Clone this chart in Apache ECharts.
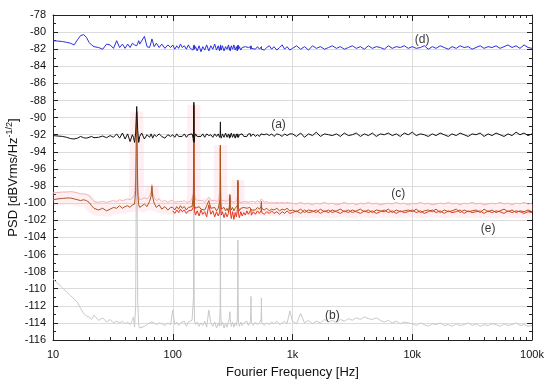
<!DOCTYPE html>
<html>
<head>
<meta charset="utf-8">
<script src="https://cdn.jsdelivr.net/npm/echarts@6/dist/echarts.min.js"></script>
<style>html,body{margin:0;padding:0;background:#fff}#c{width:550px;height:386px}</style>
</head>
<body>
<div id="c"></div>
<script>
// ---- frequency grid [Hz] ----
var fLow = [10,11,12,13,14,15,16,17,18,19,
  20,21,22,24,26,28,30,32,34,36,
  38,40,42,44,46,47,48,49,50,51,
  52,53,55,58,61,64,66,67,68,70,
  73,77,81,86,91,96];
var fMid = [100,104,108,112,116,120,125,130,135,140,
  145,148,149,150,151,152,155,160,166,172,
  178,185,192,200,208,216,224,232,240,246,
  249,250,251,254,260,268,276,284,292,298,
  300,302,308,316,324,332,340,346,349,350,
  351,354,360,370,380,392,404,416,428,440,
  446,449,450,451,454,470,490,510,530,546,
  549,550,551,554,580,610,640,670,700,740,
  780,820,860,900,950];
var fHigh = [1000,1080,1170,1260,1360,1470,1580,1710,1850,2000,
  2150,2330,2510,2710,2930,3160,3410,3690,3980,4300,
  4640,5010,5410,5840,6310,6810,7360,7940,8580,9260,
  10000,10800,11700,12600,13600,14700,15800,17100,18500,20000,
  21500,23300,25100,27100,29300,31600,34100,36900,39800,43000,
  46400,50100,54100,58400,63100,68100,73600,79400,85800,92600,
  100000];

// ---- (d) blue ----
var dLow = [-81.0,-81.05,-81.1,-81.2,-81.3,-81.5,-80.9,-80.4,-80.3,-80.6,
  -81.2,-81.5,-81.7,-81.8,-82.0,-81.4,-81.5,-81.9,-81.0,-81.8,
  -81.4,-81.9,-81.4,-81.8,-81.3,-81.1,-81.5,-81.7,-81.6,-81.3,
  -81.0,-81.4,-81.6,-80.5,-81.7,-81.8,-81.2,-80.8,-80.7,-81.7,
  -81.3,-81.8,-81.4,-81.9,-81.5,-81.8];
var dMid = [-81.5,-82.0,-81.6,-81.9,-81.4,-81.8,-81.6,-82.0,-81.5,-81.9,
  -81.7,-82.1,-81.6,-81.9,-81.5,-82.0,-81.7,-82.2,-81.6,-82.3,
  -81.7,-82.1,-81.5,-82.2,-81.6,-82.0,-81.4,-82.1,-81.6,-82.2,
  -81.7,-82.0,-81.5,-82.1,-81.6,-82.2,-81.7,-82.0,-81.5,-82.1,
  -81.8,-82.2,-81.6,-82.0,-81.5,-82.1,-81.7,-82.2,-81.6,-81.9,
  -81.5,-82.0,-81.7,-82.1,-81.8,-82.0,-81.7,-81.9,-81.8,-82.0,
  -81.7,-82.0,-81.8,-81.6,-81.9,-81.8,-82.0,-81.7,-82.0,-81.8,
  -81.9,-81.7,-82.0,-81.8,-82.1,-81.8,-81.6,-82.0,-81.7,-82.1,
  -81.8,-81.5,-82.0,-81.7,-82.1];
var dHigh = [-81.9,-81.6,-82.0,-81.7,-82.1,-81.6,-81.9,-81.7,-82.0,-81.8,
  -81.6,-81.9,-81.7,-82.0,-81.8,-81.6,-81.9,-81.7,-82.0,-81.6,
  -81.9,-81.7,-81.8,-82.0,-81.6,-81.9,-81.7,-81.8,-81.6,-81.9,
  -81.7,-81.9,-81.8,-81.6,-82.0,-81.7,-81.9,-81.6,-81.8,-82.0,
  -81.7,-81.9,-81.6,-81.8,-81.7,-82.0,-81.8,-81.6,-81.9,-81.7,
  -81.8,-81.6,-81.9,-81.7,-81.5,-81.8,-81.6,-81.9,-81.5,-81.8,
  -81.9];

// ---- (a) black ----
var aLow = [-92.1,-92.15,-92.2,-92.3,-92.45,-92.5,-92.4,-92.2,-92.35,-92.4,
  -92.3,-92.2,-92.35,-92.3,-92.15,-92.35,-92.1,-92.3,-91.9,-92.4,
  -91.8,-92.5,-91.9,-92.8,-92.0,-92.3,-92.9,-91.8,-88.7,-91.5,
  -92.9,-92.2,-91.8,-92.5,-92.0,-92.3,-91.9,-92.1,-92.4,-92.0,
  -92.2,-91.9,-92.2,-92.4,-92.0,-92.2];
var aMid = [-92.0,-92.3,-91.9,-92.2,-92.0,-92.2,-91.9,-92.3,-92.0,-92.2,
  -91.9,-92.4,-92.8,-88.2,-92.9,-92.3,-91.9,-92.2,-92.0,-92.2,
  -91.9,-92.3,-91.9,-92.1,-92.0,-92.3,-91.9,-92.2,-91.9,-92.3,
  -92.0,-90.5,-92.1,-92.4,-91.9,-92.3,-91.8,-92.3,-91.9,-92.4,
  -92.0,-92.3,-91.8,-92.3,-91.9,-92.4,-91.9,-92.3,-91.9,-92.1,
  -91.8,-92.3,-92.0,-92.2,-91.9,-92.2,-92.0,-92.2,-91.9,-92.1,
  -91.9,-92.2,-92.0,-92.1,-92.0,-91.9,-92.2,-92.0,-92.2,-91.9,
  -92.1,-92.0,-91.9,-92.1,-92.0,-91.9,-92.1,-91.9,-92.2,-91.9,
  -92.0,-92.2,-91.9,-92.1,-91.9];
var aHigh = [-91.9,-92.2,-91.8,-92.3,-91.9,-92.1,-91.7,-92.2,-91.9,-92.0,
  -92.1,-91.9,-92.2,-91.8,-92.1,-92.0,-91.8,-92.2,-91.9,-92.1,
  -91.8,-92.2,-91.9,-92.0,-91.8,-92.1,-91.9,-92.2,-91.8,-92.0,
  -91.7,-92.1,-91.9,-92.0,-92.2,-91.9,-92.1,-91.8,-92.0,-92.2,
  -91.9,-92.1,-91.8,-92.0,-92.2,-91.9,-92.0,-91.8,-92.2,-91.9,
  -92.1,-91.8,-92.0,-92.2,-91.9,-92.1,-91.7,-92.0,-91.8,-92.1,
  -91.9];

// ---- (c) brown ----
var cLow = [-99.6,-99.5,-99.45,-99.4,-99.4,-99.5,-99.6,-99.7,-99.6,-99.7,
  -99.9,-100.3,-100.6,-100.8,-100.6,-100.9,-100.7,-100.5,-100.6,-100.3,
  -100.6,-100.4,-100.3,-100.5,-100.2,-100.4,-100.1,-98.5,-89.3,-98.8,
  -100.2,-100.5,-100.3,-100.1,-100.4,-99.8,-99.2,-98.0,-99.3,-100.0,
  -100.5,-100.2,-100.7,-100.4,-100.8,-100.5];
var cMid = [-100.5,-100.8,-100.4,-100.7,-100.3,-100.6,-100.4,-100.8,-100.5,-100.7,
  -100.4,-100.2,-99.0,-88.5,-99.2,-100.3,-100.6,-100.8,-100.4,-100.7,
  -100.5,-100.8,-100.3,-99.7,-100.6,-100.8,-100.5,-100.9,-100.6,-100.8,
  -99.5,-93.2,-99.6,-100.7,-100.9,-100.5,-100.9,-100.6,-101.0,-100.2,
  -99.0,-100.3,-100.8,-100.5,-100.9,-100.6,-100.8,-100.3,-99.5,-97.3,
  -99.8,-100.5,-100.9,-100.6,-100.8,-100.5,-100.7,-100.6,-100.8,-100.5,
  -100.7,-100.6,-100.3,-100.6,-100.8,-100.6,-100.8,-100.5,-100.7,-100.4,
  -100.2,-99.8,-100.3,-100.6,-100.8,-100.6,-100.9,-100.7,-100.8,-100.6,
  -100.9,-100.7,-100.8,-100.6,-100.9];
var cHigh = [-100.8,-101.0,-100.7,-101.1,-100.8,-100.9,-101.1,-100.7,-101.0,-100.8,
  -101.1,-100.9,-100.7,-101.0,-100.8,-101.1,-100.9,-100.7,-101.0,-100.8,
  -101.1,-100.8,-100.9,-101.0,-100.7,-101.1,-100.8,-101.0,-100.9,-100.8,
  -101.0,-100.7,-101.1,-100.9,-100.8,-101.0,-100.7,-101.1,-100.8,-101.0,
  -100.9,-100.7,-101.1,-100.8,-101.0,-100.9,-100.8,-101.1,-100.7,-101.0,
  -100.8,-101.1,-100.9,-100.7,-101.0,-100.8,-101.1,-100.9,-101.0,-100.8,
  -101.0];

// ---- light pink companion of (c) ----
var pLow = [-98.8,-98.75,-98.7,-98.7,-98.65,-98.7,-98.8,-98.9,-98.9,-99.0,
  -99.1,-99.5,-99.8,-99.9,-99.8,-99.9,-99.8,-99.7,-99.8,-99.6,
  -99.7,-99.6,-99.5,-99.6,-99.4,-99.3,-99.0,-97.0,-89.6,-97.5,
  -99.2,-99.6,-99.5,-99.4,-99.5,-99.2,-98.7,-97.8,-98.8,-99.4,
  -99.7,-99.5,-99.8,-99.7,-99.9,-99.7];
var pMid = [-99.7,-99.9,-99.7,-99.8,-99.6,-99.8,-99.7,-99.9,-99.7,-99.8,
  -99.5,-98.8,-97.0,-89.0,-97.2,-99.0,-99.6,-99.8,-99.7,-99.9,
  -99.7,-99.9,-99.6,-99.3,-99.7,-99.9,-99.7,-99.9,-99.8,-99.6,
  -98.5,-93.6,-98.6,-99.7,-99.9,-99.7,-99.9,-99.8,-99.9,-99.5,
  -99.0,-99.5,-99.8,-99.7,-99.9,-99.8,-99.8,-99.4,-98.5,-97.6,
  -98.7,-99.5,-99.9,-99.8,-99.9,-99.7,-99.8,-99.8,-99.9,-99.7,
  -99.8,-99.8,-99.6,-99.8,-99.9,-99.8,-99.9,-99.7,-99.9,-99.7,
  -99.5,-99.3,-99.5,-99.7,-99.9,-99.8,-100.0,-99.9,-100.0,-99.9,
  -100.0,-99.9,-100.0,-99.9,-100.0];
var pHigh = [-100.0,-100.1,-99.9,-100.1,-100.0,-100.2,-100.0,-100.1,-99.9,-100.1,
  -100.0,-100.2,-100.1,-99.9,-100.1,-100.0,-100.2,-100.0,-100.1,-99.9,
  -100.1,-100.0,-100.2,-100.1,-100.0,-100.1,-99.9,-100.1,-100.0,-100.2,
  -100.0,-100.1,-99.9,-100.1,-100.0,-100.2,-100.1,-100.0,-100.1,-99.9,
  -100.1,-100.0,-100.2,-100.0,-100.1,-99.9,-100.1,-100.0,-100.2,-100.1,
  -100.0,-100.1,-99.9,-100.1,-100.0,-100.2,-100.0,-100.1,-99.9,-100.1,
  -100.0];

// ---- (e) red (from 100 Hz) ----
var eMid = [-100.9,-101.2,-100.8,-101.1,-100.7,-101.0,-100.8,-101.2,-100.9,-101.1,
  -100.8,-100.5,-99.3,-88.7,-99.5,-100.9,-101.4,-100.9,-101.5,-100.8,
  -101.3,-101.0,-101.6,-100.2,-101.3,-100.9,-101.6,-101.0,-101.5,-101.1,
  -99.9,-93.4,-100.0,-101.4,-101.0,-101.7,-101.1,-101.6,-101.2,-100.5,
  -99.3,-100.8,-101.8,-101.0,-101.9,-101.1,-101.6,-100.8,-99.8,-97.5,
  -100.2,-101.3,-101.7,-101.0,-101.5,-101.1,-101.4,-100.9,-101.3,-101.0,
  -101.2,-101.0,-100.7,-101.1,-101.4,-101.0,-101.3,-100.9,-101.2,-100.9,
  -100.6,-100.2,-100.7,-101.1,-101.3,-101.0,-101.2,-100.9,-101.2,-101.0,
  -101.3,-101.0,-101.2,-100.9,-101.2];
var eHigh = [-101.1,-100.9,-101.2,-100.8,-101.1,-101.0,-100.8,-101.2,-100.9,-101.1,
  -100.8,-101.0,-101.2,-100.9,-101.1,-100.8,-101.0,-101.2,-100.9,-101.1,
  -100.9,-101.2,-101.0,-100.8,-101.1,-100.9,-101.2,-100.9,-101.1,-101.0,
  -100.8,-101.1,-100.9,-101.2,-101.0,-100.8,-101.1,-100.9,-101.2,-100.9,
  -101.1,-101.0,-100.8,-101.2,-100.9,-101.1,-101.0,-100.9,-101.2,-100.9,
  -101.1,-100.9,-101.0,-101.2,-100.9,-101.1,-100.9,-101.0,-101.2,-101.0,
  -101.1];

// ---- (b) grey ----
var bLow = [-108.9,-109.4,-109.9,-110.4,-110.8,-111.2,-111.6,-112.3,-112.9,-113.2,
  -113.3,-113.6,-113.1,-113.7,-113.4,-113.9,-113.6,-114.0,-113.8,-114.0,
  -113.8,-114.1,-113.9,-114.2,-113.7,-113.3,-114.5,-112.0,-89.3,-111.5,
  -114.3,-114.6,-114.7,-114.4,-114.2,-114.0,-114.2,-113.9,-114.1,-114.0,
  -114.2,-114.0,-114.1,-114.3,-114.0,-114.2];
var bMid = [-112.5,-114.2,-113.9,-114.3,-114.0,-114.2,-113.8,-114.4,-113.9,-114.1,
  -113.7,-113.5,-111.0,-88.6,-111.0,-113.8,-114.2,-113.9,-114.4,-114.0,
  -114.3,-113.8,-114.5,-112.5,-114.0,-114.4,-113.9,-114.6,-114.0,-114.4,
  -112.0,-93.3,-112.2,-114.3,-113.9,-114.6,-114.0,-114.5,-113.9,-113.3,
  -112.7,-113.5,-114.4,-113.9,-114.5,-114.0,-114.3,-113.5,-110.0,-104.3,
  -110.5,-114.0,-114.4,-113.9,-114.3,-114.0,-114.2,-113.8,-114.3,-114.0,
  -113.7,-112.5,-110.9,-112.6,-114.0,-114.3,-113.9,-114.2,-114.0,-113.6,
  -112.6,-111.1,-112.7,-114.0,-114.3,-114.0,-114.2,-113.9,-114.1,-113.8,
  -114.2,-114.0,-113.8,-114.1,-112.6];
var bHigh = [-113.8,-114.1,-112.9,-114.0,-113.7,-114.1,-113.8,-114.0,-113.6,-113.9,
  -113.7,-114.0,-113.6,-113.8,-113.5,-113.7,-113.4,-113.6,-113.3,-113.5,
  -113.6,-113.4,-113.7,-113.9,-113.7,-114.0,-113.8,-114.1,-113.9,-114.0,
  -114.1,-114.3,-114.0,-114.2,-114.4,-114.1,-114.2,-114.0,-114.3,-114.2,
  -114.4,-114.1,-114.3,-114.2,-114.0,-114.3,-114.1,-114.4,-114.2,-114.3,
  -114.1,-114.2,-114.4,-114.1,-114.3,-114.2,-114.0,-114.3,-114.2,-114.4,
  -114.3];

// ---- ticks & annotations ----
var xTickLabels = {10:'10',100:'100',1000:'1k',10000:'10k',100000:'100k'};
var xMinorTicks = [20,30,40,50,60,70,80,90,200,300,400,500,600,700,800,900,
  2000,3000,4000,5000,6000,7000,8000,9000,20000,30000,40000,50000,60000,70000,80000,90000];
var curveLabels = ['(d)','(a)','(c)','(e)','(b)'];
var curveLabelFreq = [12100, 764, 7640, 43000, 2150];
var curveLabelVal = [-80.9, -90.85, -98.95, -103.0, -113.1];

var freq = fLow.concat(fMid, fHigh);
var freqE = fMid.concat(fHigh);
function pairs(fs, vs){ if(fs.length!==vs.length) throw new Error('len '+fs.length+' vs '+vs.length); return fs.map(function(f,i){return [f, vs[i]];}); }
var dData = pairs(freq, dLow.concat(dMid, dHigh));
var aData = pairs(freq, aLow.concat(aMid, aHigh));
var cData = pairs(freq, cLow.concat(cMid, cHigh));
var pData = pairs(freq, pLow.concat(pMid, pHigh));
var eData = pairs(freqE, eMid.concat(eHigh));
var bData = pairs(freq, bLow.concat(bMid, bHigh));

var FONT = '"Liberation Sans", Arial, Helvetica, sans-serif';
var AX = '#222';
function xAx(pos, minor, labels){
  return {
    type:'log', logBase:10, min:10, max:100000, position:pos,
    axisLine:{show:!minor, onZero:false, lineStyle:{color:AX, width:1}},
    axisTick:minor ? {show:true, inside:true, length:3, customValues:xMinorTicks, lineStyle:{color:AX}}
                   : {show:true, inside:true, length:6, lineStyle:{color:AX}},
    axisLabel:{show:labels, margin:9, fontFamily:FONT, fontSize:11, color:'#111',
      formatter:function(v){ return xTickLabels[Math.round(v)] || ''; }},
    splitLine:{show:(!minor && labels), lineStyle:{color:'#dcdcdc', width:1}},
    name: labels ? 'Fourier Frequency [Hz]' : '',
    nameLocation:'middle', nameGap:26,
    nameTextStyle:{fontFamily:FONT, fontSize:13, color:'#111'}
  };
}
function yAx(pos, labels){
  return {
    type:'value', min:-116, max:-78, interval:2, position:pos,
    axisLine:{show:true, onZero:false, lineStyle:{color:AX, width:1}},
    axisTick:{show:true, inside:true, length:5, lineStyle:{color:AX}},
    minorTick:{show:true, splitNumber:2, length:3, lineStyle:{color:AX}},
    axisLabel:{show:labels, margin:7, fontFamily:FONT, fontSize:11, color:'#111'},
    splitLine:{show:labels, lineStyle:{color:'#dcdcdc', width:1}},
    name: labels ? 'PSD [dBVrms/Hz{sup|-1/2}]' : '',
    nameLocation:'middle', nameGap:32, nameRotate:90, nameMoveOverlap:false,
    nameTextStyle:{fontFamily:FONT, fontSize:13, color:'#111',
      rich:{sup:{fontFamily:FONT, fontSize:9, color:'#111', verticalAlign:'bottom', padding:[0,0,7,0]}}}
  };
}
function line(data, color, width, z){
  return {type:'line', data:data, xAxisIndex:0, yAxisIndex:0, showSymbol:false, symbol:'none',
    smooth:false, lineStyle:{color:color, width:width}, z:z, silent:true, animation:false};
}

var chart = echarts.init(document.getElementById('c'), null, {renderer:'canvas'});
chart.setOption({
  animation:false,
  backgroundColor:'#fff',
  grid:{left:53, right:18, top:15, bottom:46, containLabel:false, outerBoundsMode:'none'},
  xAxis:[xAx('bottom', false, true), xAx('bottom', true, false), xAx('top', false, false), xAx('top', true, false)],
  yAxis:[yAx('left', true), yAx('right', false)],
  series:[
    line(bData, '#c9c9c9', 1, 2),
    line(cData, 'rgba(255,175,190,0.2)', 13, 3),
    line(pData, '#f2b3b3', 1, 4),
    line(eData, '#e8361c', 1, 5),
    line(cData, '#a8581c', 1, 6),
    line(aData, '#111111', 1, 7),
    line(dData, '#2a2ee0', 1, 8),
    {type:'scatter', xAxisIndex:0, yAxisIndex:0, symbolSize:0, z:10, silent:true,
     data: curveLabels.map(function(t,i){ return {value:[curveLabelFreq[i], curveLabelVal[i]], name:t}; }),
     label:{show:true, position:'inside', formatter:'{b}', fontFamily:FONT, fontSize:12, color:'#000'}}
  ]
});
</script>
</body>
</html>
